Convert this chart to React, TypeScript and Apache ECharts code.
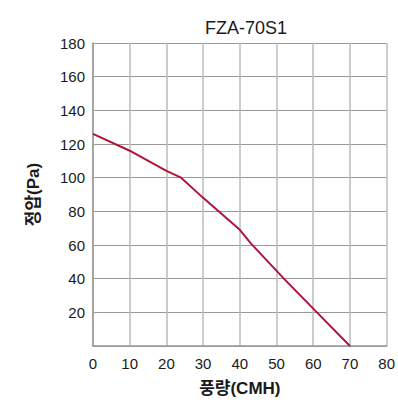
import React, { useEffect, useRef } from "react";
import * as echarts from "echarts";

const title = "FZA-70S1";
const xName = "풍량(CMH)";
const yName = "정압(Pa)";
const flow = [0, 10, 20, 24, 30, 40, 43, 52, 61, 70];
const pressure = [126, 116, 104, 100, 88, 69, 61, 40, 20, 0];

export default function App() {
  const ref = useRef<HTMLDivElement>(null);
  useEffect(() => {
    if (!ref.current) return;
    const chart = echarts.init(ref.current, undefined, { renderer: "svg", width: 398, height: 403 });
    const font = "Liberation Sans, Arial, sans-serif";
    const cjk = "Liberation Sans, 'Noto Sans CJK KR', sans-serif";
    chart.setOption({
      animation: false,
      backgroundColor: "#fff",
      title: {
        text: title,
        left: 241,
        textAlign: "center",
        top: 14,
        textStyle: { fontFamily: font, fontSize: 18, fontWeight: "normal", color: "#1a1a1a" },
      },
      grid: { left: 93, right: 7, top: 43, bottom: 57, containLabel: false },
      xAxis: {
        type: "value",
        min: 0,
        max: 80,
        interval: 10,
        name: xName,
        nameLocation: "middle",
        nameGap: 34,
        nameTextStyle: { fontFamily: cjk, fontSize: 17, fontWeight: "bold", color: "#1a1a1a", verticalAlign: "top" },
        axisLine: { show: true, lineStyle: { color: "#999", width: 1.5 } },
        axisTick: { show: false },
        axisLabel: { fontFamily: font, fontSize: 15, color: "#1a1a1a", margin: 10 },
        splitLine: { show: true, lineStyle: { color: "#bbb", width: 1.5 } },
      },
      yAxis: {
        type: "value",
        min: 0,
        max: 180,
        interval: 20,
        name: yName,
        nameLocation: "middle",
        nameGap: 51,
        nameRotate: 90,
        nameTextStyle: { fontFamily: cjk, fontSize: 17, fontWeight: "bold", color: "#1a1a1a" },
        axisLine: { show: true, lineStyle: { color: "#999", width: 1.5 } },
        axisTick: { show: false },
        axisLabel: {
          fontFamily: font,
          fontSize: 15,
          color: "#1a1a1a",
          margin: 8,
          formatter: (v: number) => (v === 0 ? "" : String(v)),
        },
        splitLine: { show: true, lineStyle: { color: "#999", width: 1 } },
      },
      series: [
        {
          type: "line",
          data: flow.map((x, i) => [x, pressure[i]]),
          showSymbol: false,
          lineStyle: { color: "#b0143a", width: 2 },
        },
      ],
    });
    return () => chart.dispose();
  }, []);
  return <div ref={ref} style={{ width: 398, height: 403, position: "absolute", left: 0, top: 0 }} />;
}
